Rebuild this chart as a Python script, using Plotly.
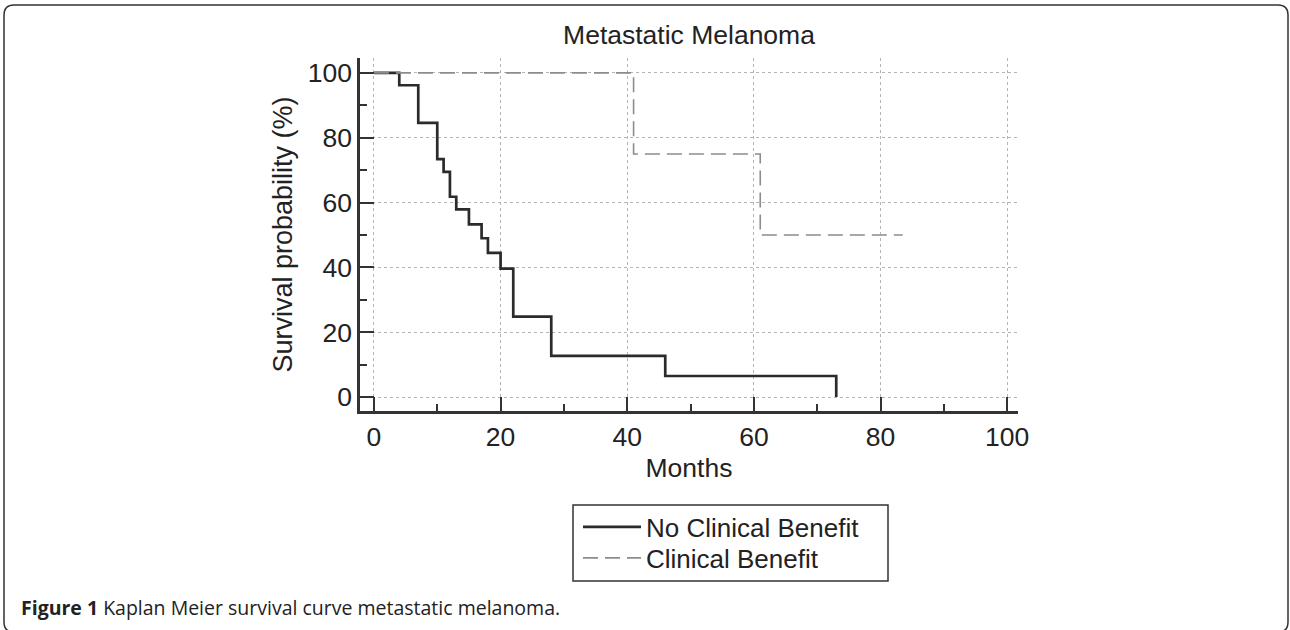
import plotly.graph_objects as go

# ---- data ----
no_benefit_months = [0, 4, 7, 10, 11, 12, 13, 15, 17, 18, 20, 22, 28, 46, 73]
no_benefit_surv = [100, 96.2, 84.6, 73.4, 69.5, 61.8, 57.9, 53.3, 49.0, 44.5, 39.6, 24.8, 12.7, 6.5, 0]
benefit_months = [0, 41, 61, 83.5]
benefit_surv = [100, 75, 50, 50]
x_ticks = [0, 20, 40, 60, 80, 100]
y_ticks = [0, 20, 40, 60, 80, 100]

W, H = 1290, 630
L, R, T, B = 360, 1018, 58, 411  # plot area in pixels

def px_x(p):
    return (p - L) / (R - L)

def px_y(p):
    return (B - p) / (B - T)

FONT = "Liberation Sans, Arial, sans-serif"
TXT = "#222222"

fig = go.Figure()
fig.add_trace(go.Scatter(
    x=no_benefit_months, y=no_benefit_surv, mode="lines", line_shape="hv",
    name="No Clinical Benefit", line=dict(color="#2b2b2b", width=2.7), legend="legend"))
fig.add_trace(go.Scatter(
    x=benefit_months, y=benefit_surv, mode="lines", line_shape="hv",
    name="Clinical Benefit", line=dict(color="#8c8c8c", width=1.6, dash="15px,7px"), legend="legend2"))

axis_common = dict(
    showline=True, linecolor="#333333", linewidth=2.5, mirror=False,
    ticks="inside", ticklen=14, tickwidth=2, tickcolor="#333333",
    showgrid=True, gridcolor="#b5b5b5", griddash="dot", gridwidth=1,
    zeroline=False, tickfont=dict(family=FONT, size=26.5, color=TXT),
    minor=dict(ticks="inside", ticklen=7, tickwidth=1.5, tickcolor="#333333",
               dtick=10, tick0=0, showgrid=False),
)

fig.update_xaxes(range=[-2.2, 101.7], tickvals=x_ticks, **axis_common,
                 title=dict(text="Months", font=dict(family=FONT, size=26.5, color=TXT), standoff=8))
fig.update_yaxes(range=[-4.3, 104.6], tickvals=y_ticks, **axis_common,
                 title=dict(text="Survival probability (%)", font=dict(family=FONT, size=27, color=TXT), standoff=8))

# rounded outer border
r = 10
l, t, rr, b = 4, 5, 1288, 632
path = (f"M {px_x(l + r)},{px_y(t)} L {px_x(rr - r)},{px_y(t)} "
        f"Q {px_x(rr)},{px_y(t)} {px_x(rr)},{px_y(t + r)} "
        f"L {px_x(rr)},{px_y(b - r)} Q {px_x(rr)},{px_y(b)} {px_x(rr - r)},{px_y(b)} "
        f"L {px_x(l + r)},{px_y(b)} Q {px_x(l)},{px_y(b)} {px_x(l)},{px_y(b - r)} "
        f"L {px_x(l)},{px_y(t + r)} Q {px_x(l)},{px_y(t)} {px_x(l + r)},{px_y(t)} Z")
fig.add_shape(type="path", path=path, xref="paper", yref="paper",
              line=dict(color="#333333", width=1.5), layer="below")

# legend frame
fig.add_shape(type="rect", xref="paper", yref="paper",
              x0=px_x(573), x1=px_x(888), y0=px_y(505), y1=px_y(581),
              line=dict(color="#333333", width=1.5), fillcolor="white", layer="below")

fig.add_annotation(
    text="<b>Figure 1</b> Kaplan Meier survival curve metastatic melanoma.",
    xref="paper", yref="paper", x=px_x(19), y=px_y(607), xanchor="left", yanchor="middle",
    showarrow=False, font=dict(family="Open Sans, sans-serif", size=19.5, color=TXT))

leg = dict(xanchor="left", yanchor="middle", borderwidth=0, bgcolor="rgba(0,0,0,0)",
           font=dict(family=FONT, size=26, color=TXT), itemwidth=58)

fig.update_layout(
    width=W, height=H,
    margin=dict(l=L, r=W - R, t=T, b=H - B, autoexpand=False),
    paper_bgcolor="white", plot_bgcolor="white",
    title=dict(text="Metastatic Melanoma", x=0.5, xref="paper", y=1 - 35 / H, yanchor="middle",
               font=dict(family=FONT, size=26.5, color=TXT)),
    showlegend=True,
    legend=dict(x=px_x(578), y=px_y(527), **leg),
    legend2=dict(x=px_x(578), y=px_y(558), **leg),
)

fig.write_html("out.html", config={"displayModeBar": False},
               post_script="document.body.style.margin='0';")
